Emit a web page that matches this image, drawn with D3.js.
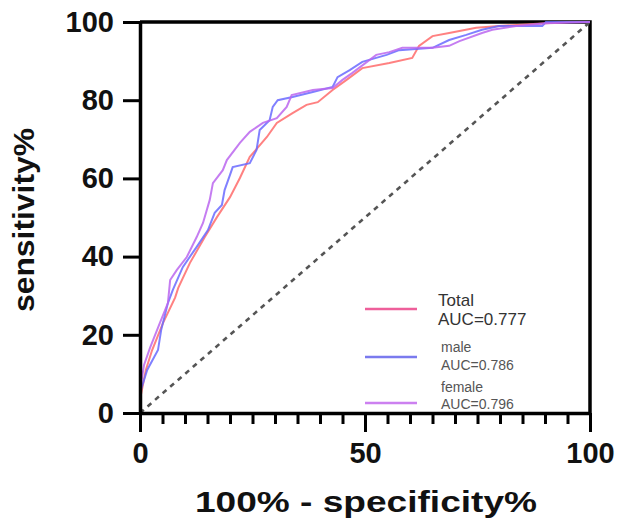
<!DOCTYPE html>
<meta charset="utf-8">
<script src="https://d3js.org/d3.v7.min.js"></script>
<style>
  body { margin: 0; background: #fff; }
  text { font-family: "Liberation Sans", Arial, sans-serif; }
</style>
<div id="chart"></div>
<script>

// ROC points [100% - specificity, sensitivity]
var totalRoc = [
  [0, 0], [0.2, 4.6], [1.3, 11], [2.7, 16.1], [5.1, 23], [7.8, 29.5], [8.5, 32],
  [11.1, 38.4], [14.4, 45], [17.1, 50.1], [20, 55.2], [22.2, 60.1], [24.4, 65.5],
  [28.2, 70.6], [30.4, 74.2], [33.9, 76.7], [37, 78.8], [39.5, 79.5], [42.8, 82.6],
  [45.9, 85.2], [49.4, 88.2], [55.4, 89.5], [60.5, 90.8], [62, 93.9], [65, 96.4],
  [68.7, 97.2], [74.7, 98.5], [79.8, 99], [90.2, 99.7], [95.3, 100], [100, 100]
];
var maleRoc = [
  [0, 0], [0.2, 5.9], [1.6, 11], [4, 16.1], [4.7, 21.2], [6.2, 28.1], [7.3, 31.5],
  [9.5, 37.3], [12.6, 42.5], [15.1, 46.8], [16.6, 51.2], [18.2, 53.2], [18.8, 57],
  [20, 60.9], [20.6, 62.9], [24.4, 63.9], [25.9, 67.3], [26.6, 72.4], [28.8, 74.9],
  [29.5, 78.3], [30.6, 80], [33.9, 80.8], [38.4, 82.1], [42.8, 83.4], [43.9, 85.9],
  [46.6, 87.7], [49.4, 89.8], [54.8, 91.6], [57.6, 92.8], [65, 93.4], [68.7, 95.4],
  [72.5, 96.7], [76, 98], [79.8, 99], [89.4, 99], [90.2, 100], [100, 100]
];
var femaleRoc = [
  [0, 0], [0.2, 7.2], [0.9, 12.3], [2.2, 16.6], [4.4, 23], [6.2, 28.1], [6.7, 34],
  [8.2, 36.6], [10.4, 39.9], [12.6, 45], [14, 48.6], [15.5, 54.5], [16.2, 58.8],
  [18.4, 62.1], [19.3, 64.7], [22.2, 69.1], [24.4, 71.9], [27.3, 74.2], [30.4, 75.4],
  [32.6, 78.3], [33.7, 81.3], [38.4, 82.6], [42.8, 83.1], [45, 85.2], [47.2, 87],
  [52.5, 91.6], [55.4, 92.3], [58.3, 93.4], [65, 93.4], [68.7, 93.9], [71, 95.1],
  [76, 97.2], [78.3, 98], [83.6, 99], [90.2, 99.7], [100, 100]
];
var refLine = [[0, 0], [100, 100]];

var yTicks = [0, 20, 40, 60, 80, 100];
var xMajorTicks = [0, 50, 100];
var xMinorTicks = d3.range(0, 101, 5);

var seriesNames = ["Total", "male", "female"];
var seriesAuc = ["AUC=0.777", "AUC=0.786", "AUC=0.796"];

var svg = d3.select("#chart").append("svg")
  .attr("width", 620)
  .attr("height", 519);

var x = d3.scaleLinear().domain([0, 100]).range([140, 590]);
var y = d3.scaleLinear().domain([0, 100]).range([413, 22]);

// frame (top & right)
svg.append("path")
  .attr("d", "M" + x(0) + "," + y(100) + "H" + x(100) + "V" + y(0))
  .attr("fill", "none")
  .attr("stroke", "#000")
  .attr("stroke-width", 3.5);

// diagonal
svg.append("path")
  .attr("d", d3.line().x(function(d) { return x(d[0]); }).y(function(d) { return y(d[1]); })(refLine))
  .attr("fill", "none")
  .attr("stroke", "#555")
  .attr("stroke-width", 2.6)
  .attr("stroke-dasharray", "5,5");

// curves
var line = d3.line()
  .x(function(d) { return x(d[0]); })
  .y(function(d) { return y(d[1]); });

var curves = [
  {data: totalRoc, color: "#ff6b6b"},
  {data: maleRoc, color: "#6a6aff"},
  {data: femaleRoc, color: "#bb66ee"}
];
curves.forEach(function(c) {
  svg.append("path")
    .attr("d", line(c.data))
    .attr("fill", "none")
    .attr("stroke", c.color)
    .attr("stroke-opacity", 0.85)
    .attr("stroke-width", 2);
});

// y axis
var yAxis = svg.append("g")
  .attr("transform", "translate(" + x(0) + ",0)")
  .call(d3.axisLeft(y).tickValues(yTicks).tickSize(17).tickSizeOuter(0).tickPadding(9));
yAxis.select(".domain").attr("stroke-width", 3.5);
yAxis.selectAll(".tick line").attr("stroke-width", 3);
yAxis.selectAll(".tick text")
  .attr("font-size", 29).attr("font-weight", "bold").attr("fill", "#111");

// x axis, minor then major ticks
var xMinor = svg.append("g")
  .attr("transform", "translate(0," + y(0) + ")")
  .call(d3.axisBottom(x).tickValues(xMinorTicks).tickSize(11).tickSizeOuter(0).tickFormat(""));
xMinor.select(".domain").attr("stroke-width", 3.5);
xMinor.selectAll(".tick line").attr("stroke-width", 3);

var xMajor = svg.append("g")
  .attr("transform", "translate(0," + y(0) + ")")
  .call(d3.axisBottom(x).tickValues(xMajorTicks).tickSize(19).tickSizeOuter(0).tickPadding(10));
xMajor.select(".domain").remove();
xMajor.selectAll(".tick line").attr("stroke-width", 3);
xMajor.selectAll(".tick text")
  .attr("font-size", 29).attr("font-weight", "bold").attr("fill", "#111");

// axis titles
svg.append("text")
  .attr("x", 366).attr("y", 512)
  .attr("text-anchor", "middle")
  .attr("font-size", 30).attr("font-weight", "bold").attr("fill", "#111")
  .attr("textLength", 342).attr("lengthAdjust", "spacingAndGlyphs")
  .text("100% - specificity%");

svg.append("text")
  .attr("transform", "translate(34,220) rotate(-90)")
  .attr("text-anchor", "middle")
  .attr("font-size", 30).attr("font-weight", "bold").attr("fill", "#111")
  .attr("textLength", 184).attr("lengthAdjust", "spacingAndGlyphs")
  .text("sensitivity%");

// legend
var legendColors = ["#ee5f9a", "#7a7aee", "#cc80f0"];
var legendLineY = [309, 357, 403];
var legendNameY = [306, 352, 392];
var legendAucY = [325, 370, 409];
var legendSize = [17, 14, 14];
var legendFill = ["#333", "#555", "#555"];
var legendX = [438, 441, 441];

seriesNames.forEach(function(name, i) {
  svg.append("line")
    .attr("x1", 365).attr("x2", 417)
    .attr("y1", legendLineY[i]).attr("y2", legendLineY[i])
    .attr("stroke", legendColors[i]).attr("stroke-width", 2.5);
  svg.append("text")
    .attr("x", legendX[i]).attr("y", legendNameY[i])
    .attr("font-size", legendSize[i]).attr("fill", legendFill[i])
    .text(name);
  svg.append("text")
    .attr("x", legendX[i]).attr("y", legendAucY[i])
    .attr("font-size", legendSize[i]).attr("fill", legendFill[i])
    .text(seriesAuc[i]);
});

</script>
